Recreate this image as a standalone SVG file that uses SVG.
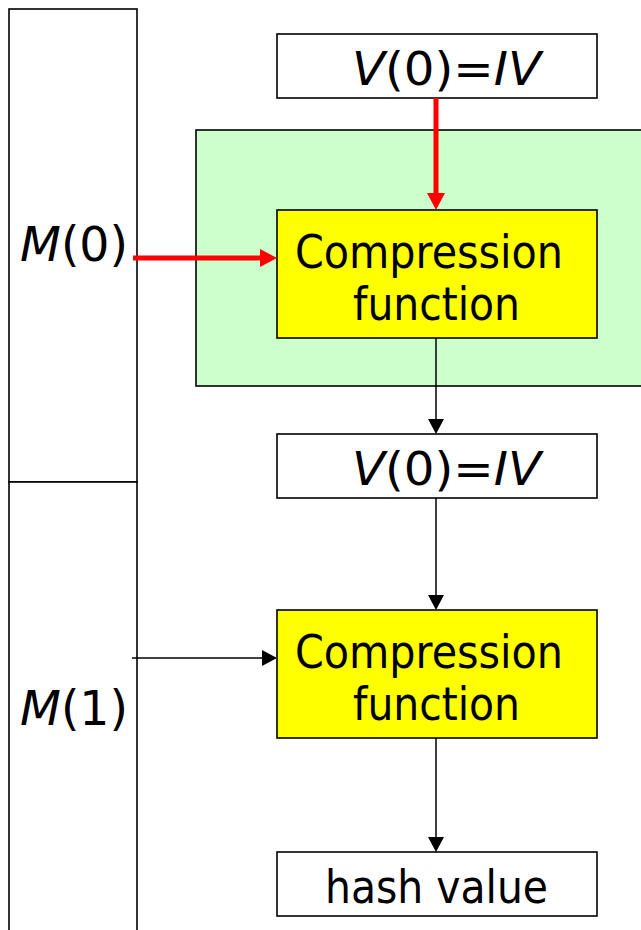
<svg xmlns="http://www.w3.org/2000/svg" width="641" height="930" viewBox="0 0 641 930">
<style>
.box{fill:#fff;stroke:#000;stroke-width:1.6}
.cf{fill:#ffff00;stroke:#000;stroke-width:1.6}
.t{font-family:"DejaVu Sans","Liberation Sans",sans-serif;fill:#000}
.i{font-style:italic}
.c{font-size:47px}
.red{stroke:#ff0000;stroke-width:5;fill:none}
.blk{stroke:#000;stroke-width:1.5;fill:none}
</style>
<defs>
<marker id="ar" viewBox="0 0 17 18" refX="2" refY="9" markerWidth="17" markerHeight="18" markerUnits="userSpaceOnUse" orient="auto">
<path d="M0,0 L17,9 L0,18 z" fill="#ff0000"/>
</marker>
<marker id="ab" viewBox="0 0 15 16" refX="2" refY="8" markerWidth="15" markerHeight="16" markerUnits="userSpaceOnUse" orient="auto">
<path d="M0,0 L15,8 L0,16 z" fill="#000"/>
</marker>
</defs>
<rect width="641" height="930" fill="#fff"/>

<g id="m0">
<rect class="box" x="9" y="9" width="128" height="473"/>
<text class="t" x="20" y="261" font-size="48" textLength="108" lengthAdjust="spacingAndGlyphs"><tspan class="i">M</tspan>(0)</text>
</g>
<g id="m1">
<rect class="box" x="9" y="482" width="128" height="460"/>
<text class="t" x="20" y="725" font-size="48" textLength="108" lengthAdjust="spacingAndGlyphs"><tspan class="i">M</tspan>(1)</text>
</g>

<g id="round0">
<rect x="196" y="130" width="460" height="256" fill="#ccffcc" stroke="#000" stroke-width="1.6"/>
</g>

<g id="iv">
<rect class="box" x="277" y="34" width="320" height="64"/>
<text class="t" x="352" y="85" font-size="47" textLength="189" lengthAdjust="spacingAndGlyphs"><tspan class="i">V</tspan>(0)=<tspan class="i">IV</tspan></text>
</g>

<g id="cf0">
<rect class="cf" x="277" y="210" width="320" height="128"/>
<text class="t c" x="295" y="268" textLength="268" lengthAdjust="spacingAndGlyphs">Compression</text>
<text class="t c" x="353" y="320" textLength="167" lengthAdjust="spacingAndGlyphs">function</text>
</g>

<g id="v1">
<rect class="box" x="277" y="434" width="320" height="64"/>
<text class="t" x="352" y="485" font-size="47" textLength="189" lengthAdjust="spacingAndGlyphs"><tspan class="i">V</tspan>(0)=<tspan class="i">IV</tspan></text>
</g>

<g id="cf1">
<rect class="cf" x="277" y="610" width="320" height="128"/>
<text class="t c" x="295" y="668" textLength="268" lengthAdjust="spacingAndGlyphs">Compression</text>
<text class="t c" x="353" y="720" textLength="167" lengthAdjust="spacingAndGlyphs">function</text>
</g>

<g id="hash">
<rect class="box" x="277" y="852" width="320" height="64"/>
<text class="t" x="325" y="903" font-size="46" textLength="223" lengthAdjust="spacingAndGlyphs">hash value</text>
</g>

<g id="connectors">
<line class="red" x1="436" y1="98" x2="436" y2="195" marker-end="url(#ar)"/>
<line class="red" x1="133" y1="258" x2="262" y2="258" marker-end="url(#ar)"/>
<line class="blk" x1="436" y1="338" x2="436" y2="421" marker-end="url(#ab)"/>
<line class="blk" x1="436" y1="498" x2="436" y2="597" marker-end="url(#ab)"/>
<line class="blk" x1="132" y1="658" x2="264" y2="658" marker-end="url(#ab)"/>
<line class="blk" x1="436" y1="738" x2="436" y2="839" marker-end="url(#ab)"/>
</g>
</svg>
